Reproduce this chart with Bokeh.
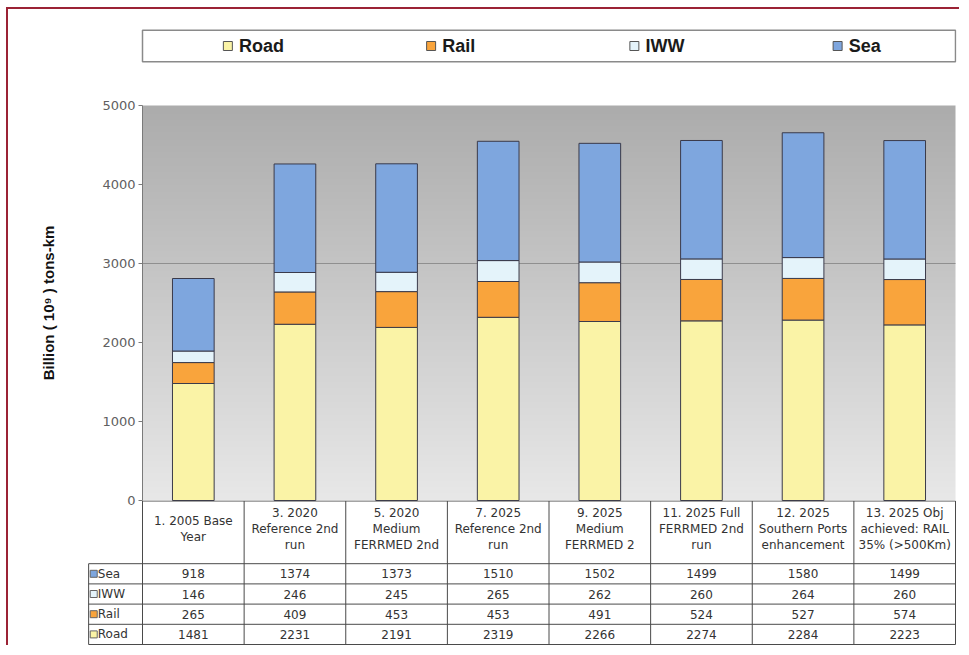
import numpy as np
from bokeh.plotting import figure
from bokeh.layouts import column
from bokeh.models import ColumnDataSource, Range1d, SingleIntervalTicker, LinearAxis
from bokeh.core.properties import value
from bokeh.embed import file_html
from bokeh.resources import INLINE

# ---------------- data ----------------
scenarios = [
    "1. 2005 Base\nYear",
    "3. 2020\nReference 2nd\nrun",
    "5. 2020\nMedium\nFERRMED 2nd",
    "7. 2025\nReference 2nd\nrun",
    "9. 2025\nMedium\nFERRMED 2",
    "11. 2025 Full\nFERRMED 2nd\nrun",
    "12. 2025\nSouthern Ports\nenhancement",
    "13. 2025 Obj\nachieved: RAIL\n35% (>500Km)",
]
road = [1481, 2231, 2191, 2319, 2266, 2274, 2284, 2223]
rail = [265, 409, 453, 453, 491, 524, 527, 574]
iww = [146, 246, 245, 265, 262, 260, 264, 260]
sea = [918, 1374, 1373, 1510, 1502, 1499, 1580, 1499]
series = ["Road", "Rail", "IWW", "Sea"]
series_values = [road, rail, iww, sea]
colors = ["#faf3a6", "#f9a43c", "#e4f3fa", "#7ea6de"]
y_label = "Billion ( 10\u2079 ) tons-km"
y_max = 5000
y_step = 1000
grid_value = 3000

n = len(scenarios)
xs = [i + 0.5 for i in range(n)]
W = 951
FONT = "DejaVu Sans"
BL, BR = 12, 3                 # frame borders shared by all three figures
UNIT = 813 / n                 # pixels per category
XL = (134 - BL) / UNIT         # room left of the first category (axis + row labels)
LAB = 0.53                     # width of the table's row-label column (categories)
XR = (W - BL - BR) / UNIT - XL - n


def base_fig(height, y_range, top, bottom, **kw):
    f = figure(width=W, height=height, x_range=Range1d(-XL, n + XR), y_range=y_range,
               x_axis_location=None, y_axis_location=None,
               min_border_left=BL, min_border_right=BR, min_border_top=top,
               min_border_bottom=bottom, outline_line_color=None,
               output_backend="svg", toolbar_location=None, **kw)
    f.grid.visible = False
    return f


# ---------------- legend strip ----------------
lg = base_fig(72, Range1d(0, 1), 19, 18, background_fill_color="white",
              border_fill_color="white")
lg.quad(left=[0], right=[n], bottom=[0.05], top=[0.95], fill_color=None,
        line_color="#8a8a8a", line_width=1.5)
slot = n / len(series)
lsrc = ColumnDataSource(dict(x=[i * slot + 0.84 for i in range(len(series))],
                             tx=[i * slot + 0.95 for i in range(len(series))],
                             y=[0.5] * len(series), name=series, color=colors))
lg.scatter(x="x", y="y", marker="square", size=9, fill_color="color",
           line_color="#555555", line_width=1, source=lsrc)
lg.text(x="tx", y="y", text="name", source=lsrc, text_font=value("Liberation Sans"),
        text_font_style="bold", text_font_size="18px", text_color="#1a1a1a",
        text_baseline="middle", text_align="left")

# ---------------- chart ----------------
plot_px = 395
pad = 8 * y_max / plot_px       # frame extends 8px above and below the value range
p = base_fig(427, Range1d(-pad, y_max + pad), 16, 0, background_fill_color="white",
             border_fill_color="white")

N = 256
img = np.empty((N, 1), dtype=np.uint32)
view = img.view(dtype=np.uint8).reshape((N, 1, 4))
g = np.linspace(232, 172, N).astype(np.uint8)
view[:, 0, 0] = g
view[:, 0, 1] = g
view[:, 0, 2] = g
view[:, 0, 3] = 255
p.image_rgba(image=[img], x=0, y=0, dw=n, dh=y_max)

p.segment(x0=[0], x1=[n], y0=[grid_value], y1=[grid_value], line_color="#8f8f8f",
          line_width=1)

src = ColumnDataSource(dict(x=xs, **{s: v for s, v in zip(series, series_values)}))
p.vbar_stack(series, x="x", width=0.41, color=colors, line_color="#3a3a4a",
             line_width=1, source=src)

ax = LinearAxis(fixed_location=0, bounds=(0, y_max))
p.add_layout(ax, "left")
ax.ticker = SingleIntervalTicker(interval=y_step, num_minor_ticks=0)
ax.axis_line_color = "#7a7a7a"
ax.major_tick_line_color = "#7a7a7a"
ax.major_tick_out = 4
ax.major_tick_in = 0
ax.minor_tick_line_color = None
ax.major_label_standoff = 3
ax.major_label_text_font = FONT
ax.major_label_text_font_size = "13px"
ax.major_label_text_color = "#606060"
ax.axis_label = y_label
ax.axis_label_text_font = "Liberation Sans"
ax.axis_label_text_font_style = "bold"
ax.axis_label_text_font_size = "15px"
ax.axis_label_text_color = "#111111"
ax.axis_label_standoff = 42

# ---------------- data table ----------------
t_h = 145
t = base_fig(t_h, Range1d(0, t_h), 0, 0, background_fill_alpha=0, border_fill_alpha=0,
             margin=(-8, 0, 0, 0))

bottom = 1.0
rh = 20.2
head_bot = bottom + rh * len(series)
top = t_h - 0.5
lab_left = -LAB

hx0 = [0] + [lab_left] * (len(series) + 1)
hx1 = [n] * (len(series) + 2)
hy = [top] + [bottom + rh * k for k in range(len(series) + 1)]
vx = [i for i in range(n + 1)] + [lab_left]
vy0 = [bottom] * (n + 1) + [bottom]
vy1 = [top] * (n + 1) + [head_bot]
t.segment(x0=hx0, y0=hy, x1=hx1, y1=hy, line_color="#4a4a4a", line_width=1)
t.segment(x0=vx, y0=vy0, x1=vx, y1=vy1, line_color="#4a4a4a", line_width=1)

hsrc = ColumnDataSource(dict(x=xs, y=[(head_bot + top) / 2 + 3] * n, text=scenarios))
t.text(x="x", y="y", text="text", source=hsrc, text_font=value(FONT), text_font_size="12px",
       text_color="#333333", text_align="center", text_baseline="middle", text_line_height=1.15)

rx, ry, rtxt = [], [], []
for j, (name, vals) in enumerate(zip(series, series_values)):
    yc = bottom + rh * (j + 0.5)
    for i, v in enumerate(vals):
        rx.append(xs[i]); ry.append(yc); rtxt.append(str(v))
vsrc = ColumnDataSource(dict(x=rx, y=ry, text=rtxt))
t.text(x="x", y="y", text="text", source=vsrc, text_font=value(FONT), text_font_size="12px",
       text_color="#333333", text_align="center", text_baseline="middle")

lab_src = ColumnDataSource(dict(
    mx=[lab_left + 0.05] * len(series),
    tx=[lab_left + 0.09] * len(series),
    y=[bottom + rh * (j + 0.5) for j in range(len(series))],
    name=series, color=colors))
t.scatter(x="mx", y="y", marker="square", size=7, fill_color="color", line_color="#666666",
          line_width=1, source=lab_src)
t.text(x="tx", y="y", text="name", source=lab_src, text_font=value(FONT), text_font_size="12px",
       text_color="#333333", text_align="left", text_baseline="middle")

layout = column(lg, p, t, spacing=0, margin=(7, 0, 0, 6),
                styles={"border-top": "2px solid #9b2335", "border-left": "2px solid #9b2335"})

open("out.html", "w").write(file_html(layout, INLINE))
